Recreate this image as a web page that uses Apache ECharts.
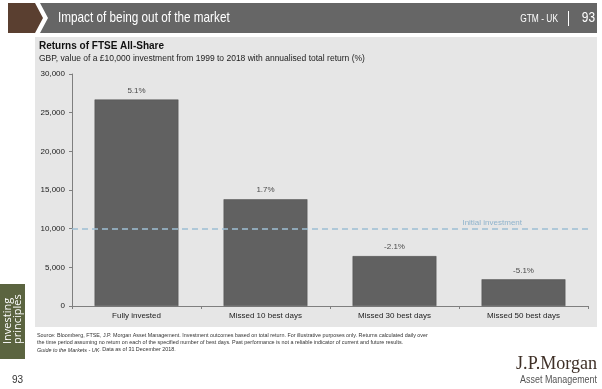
<!DOCTYPE html>
<html>
<head>
<meta charset="utf-8">
<script src="https://cdn.jsdelivr.net/npm/echarts@6/dist/echarts.min.js"></script>
<style>
html,body{margin:0;padding:0;background:#fff;}
#c{width:602px;height:389px;}
</style>
</head>
<body>
<div id="c"></div>
<script>
const categories = ['Fully invested', 'Missed 10 best days', 'Missed 30 best days', 'Missed 50 best days'];
const values = [26700, 13800, 6450, 3450];
const returnLabels = ['5.1%', '1.7%', '-2.1%', '-5.1%'];
const initialInvestment = 10000;
const yTicks = [0, 30000, 5000];

const chart = echarts.init(document.getElementById('c'), null, {renderer: 'canvas'});
const F = 'Liberation Sans, Arial, sans-serif';
const option = {
  animation: false,
  backgroundColor: '#ffffff',
  graphic: [
    {type: 'rect', shape: {x: 35, y: 37, width: 562, height: 290}, style: {fill: '#e6e6e6'}, z: -10},
    {type: 'polygon', shape: {points: [[8,3],[35,3],[43,18],[35,33],[8,33]]}, style: {fill: '#5a3f30'}},
    {type: 'polygon', shape: {points: [[40,3],[597,3],[597,33],[40,33],[48,18]]}, style: {fill: '#666666'}},
    {type: 'text', x: 58, y: 18, scaleX: 0.81, style: {text: 'Impact of being out of the market', fill: '#ffffff', font: '14.5px "Liberation Sans", sans-serif', verticalAlign: 'middle', align: 'left'}},
    {type: 'text', x: 558, y: 19, scaleX: 0.8, style: {text: 'GTM - UK', fill: '#ffffff', font: '10.5px "Liberation Sans", sans-serif', verticalAlign: 'middle', align: 'right'}},
    {type: 'rect', shape: {x: 568, y: 11, width: 1, height: 15}, style: {fill: '#ffffff'}},
    {type: 'text', x: 595, y: 18, scaleX: 0.85, style: {text: '93', fill: '#ffffff', font: '14px "Liberation Sans", sans-serif', verticalAlign: 'middle', align: 'right'}},
    {type: 'text', left: 39, top: 41, style: {text: 'Returns of FTSE All-Share', fill: '#111111', font: 'bold 10px ' + F}},
    {type: 'text', left: 39, top: 54, style: {text: 'GBP, value of a £10,000 investment from 1999 to 2018 with annualised total return (%)', fill: '#222222', font: '8.5px ' + F}},
    {type: 'rect', shape: {x: 0, y: 284, width: 25, height: 75}, style: {fill: '#5b6440'}},
    {type: 'text', x: 3, y: 344, rotation: Math.PI/2, style: {text: 'Investing\nprinciples', fill: '#ffffff', font: '11px "Open Sans", sans-serif', lineHeight: 10, align: 'left', verticalAlign: 'top'}},
    {type: 'text', left: 12, top: 375, style: {text: '93', fill: '#333333', font: '10px ' + F}},
    {type: 'text', left: 37, top: 332, style: {
      text: 'Source: Bloomberg, FTSE, J.P. Morgan Asset Management. Investment outcomes based on total return. For illustrative purposes only. Returns calculated daily over\nthe time period assuming no return on each of the specified number of best days. Past performance is not a reliable indicator of current and future results.\n{i|Guide to the Markets - UK}. Data as of 31 December 2018.',
      fill: '#333333', font: '5.4px ' + F, lineHeight: 7.2,
      rich: {i: {fontStyle: 'italic', fontSize: 5.4, fontFamily: F, fill: '#333333'}}
    }},
    {type: 'text', x: 597, y: 364, scaleX: 0.95, style: {text: 'J.P.Morgan', fill: '#3f3027', font: '19px "Liberation Serif", "DejaVu Serif", serif', align: 'right', verticalAlign: 'middle'}},
    {type: 'text', x: 597, y: 380, scaleX: 0.85, style: {text: 'Asset Management', fill: '#555555', font: '10.5px "Liberation Sans", sans-serif', align: 'right', verticalAlign: 'middle'}}
  ],
  grid: {left: 72, right: 14, top: 74, bottom: 83, containLabel: false},
  xAxis: {
    type: 'category',
    data: categories,
    axisLine: {lineStyle: {color: '#7f7f7f', width: 1}},
    axisTick: {show: true, alignWithLabel: false, length: 3, lineStyle: {color: '#7f7f7f'}},
    axisLabel: {color: '#222222', fontSize: 8, fontFamily: F, margin: 6}
  },
  yAxis: {
    type: 'value',
    min: yTicks[0], max: yTicks[1], interval: yTicks[2],
    axisLine: {show: true, lineStyle: {color: '#7f7f7f', width: 1}},
    axisTick: {show: true, length: 3, lineStyle: {color: '#7f7f7f'}},
    splitLine: {show: false},
    axisLabel: {color: '#222222', fontSize: 8, fontFamily: F, margin: 7,
      formatter: v => v.toLocaleString('en-US')}
  },
  series: [{
    type: 'bar',
    data: values,
    barCategoryGap: '35%',
    itemStyle: {color: '#616161', borderColor: '#4e4e4e', borderWidth: 0.5},
    label: {show: true, position: 'top', distance: 5, color: '#4a4a4a', fontSize: 8, fontFamily: F,
      formatter: p => returnLabels[p.dataIndex]},
    markLine: {
      silent: true,
      symbol: 'none',
      data: [{yAxis: initialInvestment}],
      lineStyle: {type: [6, 4], color: '#9dbfd4', width: 1.5},
      label: {show: true, formatter: 'Initial investment', position: 'insideEndTop', color: '#8fb3cc',
        fontSize: 8, fontFamily: F, padding: [0, 64, 0, 0], distance: 2}
    }
  }]
};
chart.setOption(option);
</script>
</body>
</html>
